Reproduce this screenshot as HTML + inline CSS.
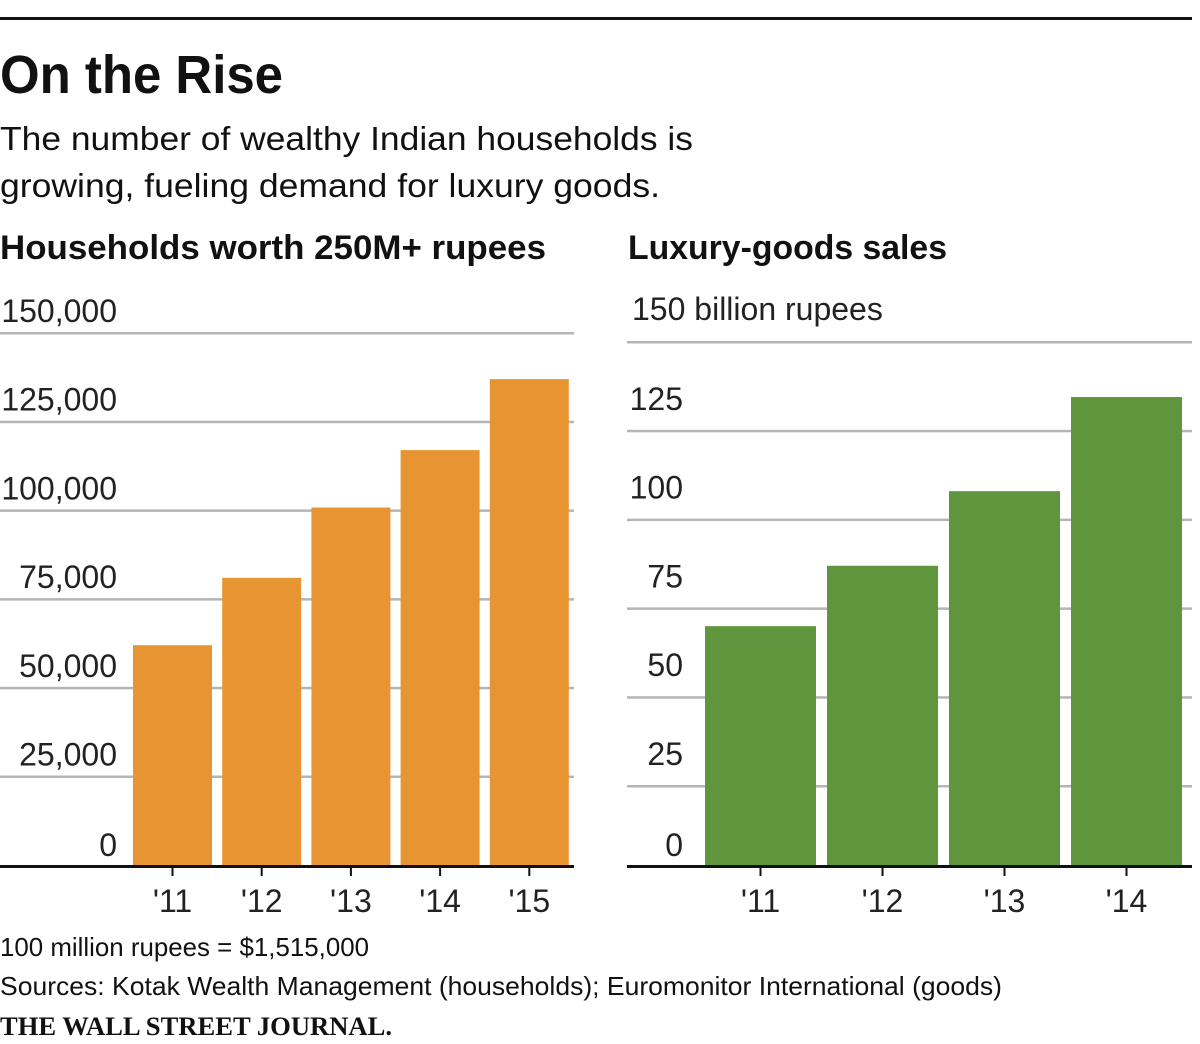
<!DOCTYPE html>
<html><head><meta charset="utf-8">
<style>
html,body{margin:0;padding:0;background:#fff;}
svg{display:block;}
text{font-family:"Liberation Sans Narrow","Liberation Sans",sans-serif;fill:#111;}
.b{font-weight:bold;}
.tick{font-size:32px;fill:#222;}
</style></head>
<body>
<svg id="chart" width="1200" height="1044" viewBox="0 0 1200 1044">
<rect x="0" y="17" width="1192" height="3" fill="#111"/>
<text x="0" y="93" class="b" font-size="54" textLength="283" lengthAdjust="spacingAndGlyphs">On the Rise</text>
<text x="0" y="150" font-size="33" textLength="693" lengthAdjust="spacingAndGlyphs">The number of wealthy Indian households is</text>
<text x="0" y="197" font-size="33" textLength="660" lengthAdjust="spacingAndGlyphs">growing, fueling demand for luxury goods.</text>
<text x="0" y="259" class="b" font-size="34" textLength="546" lengthAdjust="spacingAndGlyphs">Households worth 250M+ rupees</text>
<text x="628" y="259" class="b" font-size="34" textLength="319" lengthAdjust="spacingAndGlyphs">Luxury-goods sales</text>
<g id="left"></g>
<g id="right"></g>
<text x="0" y="956" font-size="26" textLength="369" lengthAdjust="spacingAndGlyphs">100 million rupees = $1,515,000</text>
<text x="0" y="995" font-size="26" textLength="1002" lengthAdjust="spacingAndGlyphs">Sources: Kotak Wealth Management (households); Euromonitor International (goods)</text>
<text x="0" y="1035" font-size="26" font-weight="bold" textLength="392" lengthAdjust="spacingAndGlyphs" style="font-family:'Liberation Serif',serif">THE WALL STREET JOURNAL.</text>
</svg>
<script>
const leftYears = ["'11","'12","'13","'14","'15"];
const leftValues = [62000, 81000, 100800, 117000, 137000];
const leftTicks = [0, 25000, 50000, 75000, 100000, 125000, 150000];
const leftTickLabels = ["0","25,000","50,000","75,000","100,000","125,000","150,000"];
const rightYears = ["'11","'12","'13","'14"];
const rightValues = [70, 87, 108, 134.5];
const rightTicks = [0, 25, 50, 75, 100, 125, 150];
const rightTickLabels = ["0","25","50","75","100","125","150 billion rupees"];

const NS = "http://www.w3.org/2000/svg";
function mk(tag, attrs, parent){const e=document.createElementNS(NS,tag);for(const k in attrs)e.setAttribute(k,attrs[k]);parent.appendChild(e);return e;}

function drawPanel(g, o){
  const y = v => o.yTop + (o.max - v) * o.unit;
  o.ticks.forEach((t,i)=>{
    const gy = t===0 ? o.baseY : y(t);
    if(t!==0){
      const l = mk('rect',{x:o.x0,y:gy-1,width:o.x1-o.x0,height:2.5,fill:'#b5b5b5'},g);
      
      
    }
    const isTop = i===o.ticks.length-1 && o.topLeft;
    const tx = mk('text',{x:isTop?o.topLeft:o.labelX,y:(t===0? o.baseY-10 : (isTop? gy-22 : gy-o.labOff)),'text-anchor':isTop?'start':'end',class:'tick'},g);
    tx.textContent = o.labels[i];
    
    
  });
  o.values.forEach((v,i)=>{
    const bx = o.barStart + i*o.barStep;
    const top = y(v);
    const r = mk('rect',{x:bx,y:top,width:o.barW,height:o.baseY-top,fill:o.color},g);
    
    
    const cx = bx + o.barW/2;
    const tk = mk('rect',{x:cx-1,y:o.baseY,width:2,height:10,fill:'#111'},g);
    
    
    const lb = mk('text',{x:cx,y:o.baseY+46,'text-anchor':'middle',class:'tick'},g);
    lb.textContent = o.years[i];
    
    
  });
  const base = mk('rect',{x:o.x0,y:o.baseY-1,width:o.x1-o.x0,height:3,fill:'#111'},g);
  
  
}

drawPanel(document.getElementById('left'),{
  x0:0,x1:574,labelX:117,barStart:133,barStep:89.2,barW:79,labOff:11,
  yTop:333,max:150000,unit:88.7/25000,baseY:866,color:'#e69532',
  values:leftValues,years:leftYears,ticks:leftTicks,labels:leftTickLabels
});
drawPanel(document.getElementById('right'),{
  x0:627,x1:1192,labelX:683,topLeft:632,barStart:705,barStep:122,barW:111,labOff:21,
  yTop:342,max:150,unit:88.8/25,baseY:866,color:'#5f953c',
  values:rightValues,years:rightYears,ticks:rightTicks,labels:rightTickLabels
});
</script>
</body></html>
